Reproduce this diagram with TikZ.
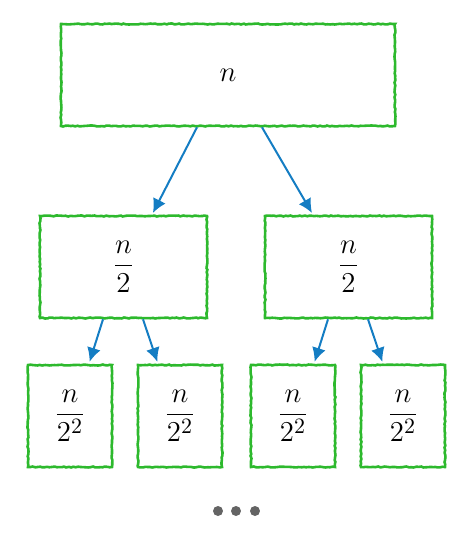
\documentclass[tikz,border=0pt]{standalone}
\usepackage{amsmath,amssymb}
\usepackage{tikz}
\usetikzlibrary{arrows.meta,decorations.pathmorphing}
\definecolor{boxgreen}{RGB}{45,185,45}
\definecolor{arrowblue}{RGB}{20,125,195}
\definecolor{dotgray}{RGB}{100,100,100}
\newcommand{\nfrac}[1]{$\dfrac{n}{#1}$}
\tikzset{
    sketch/.style={
        draw=boxgreen,
        line width=1.3pt,
        decorate,
        decoration={random steps,segment length=1.2pt,amplitude=.25pt},
    },
    bigbox/.style={
        sketch,
        minimum width=167pt,
        minimum height=51pt,
        font=\fontsize{15}{18}\selectfont,
    },
    midbox/.style={
        bigbox,
        minimum width=83.5pt,
    },
    smallbox/.style={
        bigbox,
        minimum width=42pt,
    },
    split/.style={
        draw=arrowblue,
        line width=1pt,
        -{Latex[length=7pt,width=7pt]},
        shorten >=1pt,
    },
}
\begin{document}
\begin{tikzpicture}[x=0.5pt,y=-0.5pt]
            \useasboundingbox (0,0) rectangle (472,538);

            \node[bigbox] (N) at (228,75) {$n$} ;
            \node[midbox] (L) at (123.5,267) {\nfrac{2}} ;
            \node[midbox] (R) at (348.5,267) {\nfrac{2}} ;
            \node[smallbox] (LL) at (70,416) {\nfrac{2^2}} ;
            \node[smallbox] (LR) at (180,416) {\nfrac{2^2}} ;
            \node[smallbox] (RL) at (293,416) {\nfrac{2^2}} ;
            \node[smallbox] (RR) at (403,416) {\nfrac{2^2}} ;

            \draw[split] ([xshift=-15.5pt]N.south) -- ([xshift=14.25pt]L.north) ;
            \draw[split] ([xshift=17pt]N.south) -- ([xshift=-17.75pt]R.north) ;
            \draw[split] ([xshift=-10.25pt]L.south) -- ([xshift=9.5pt]LL.north) ;
            \draw[split] ([xshift=9.75pt]L.south) -- ([xshift=-11pt]LR.north) ;
            \draw[split] ([xshift=-10.25pt]R.south) -- ([xshift=10.5pt]RL.north) ;
            \draw[split] ([xshift=9.75pt]R.south) -- ([xshift=-10pt]RR.north) ;

            \foreach \x in {218,236,255}
                \fill[dotgray] (\x,511) circle (2.5pt) ;
        \end{tikzpicture}
\end{document}
